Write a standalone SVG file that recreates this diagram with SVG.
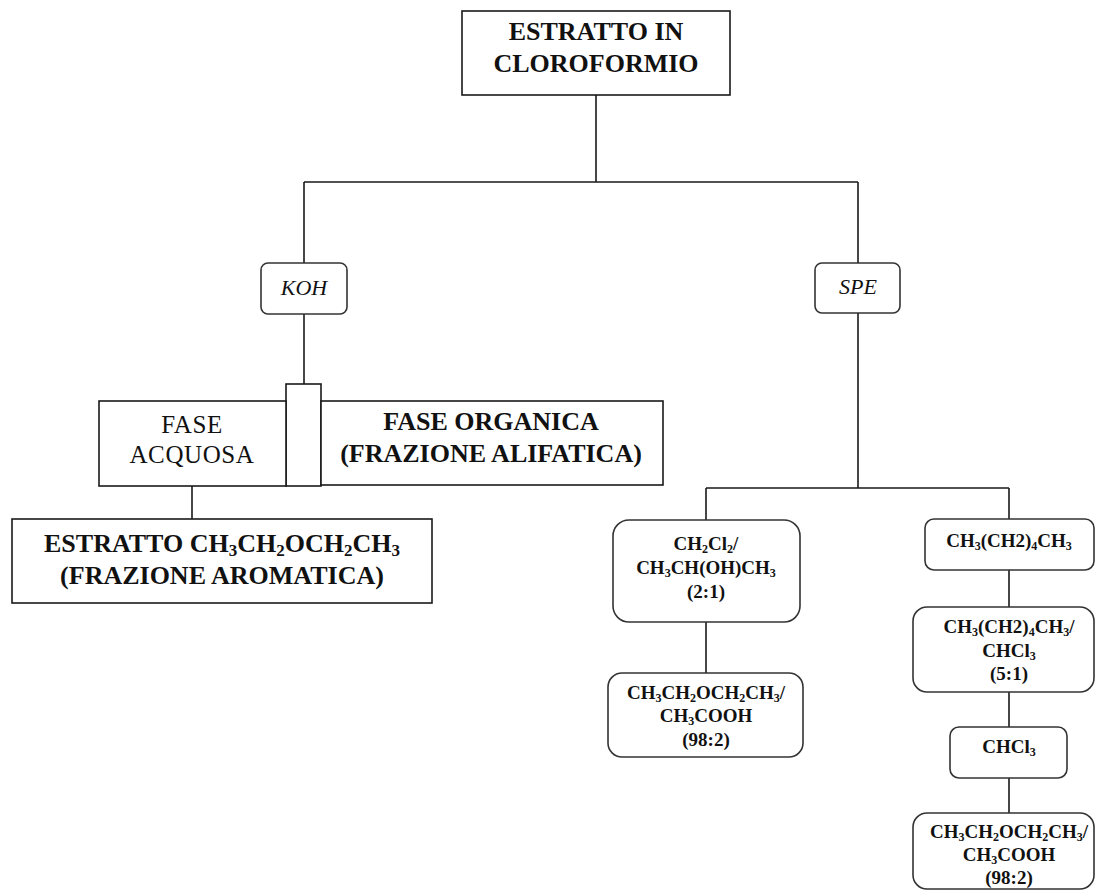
<svg xmlns="http://www.w3.org/2000/svg" width="1096" height="892" viewBox="0 0 1096 892">
<style>
.box{fill:#fff;stroke:#1a1a1a;stroke-width:1.6}
.rbox{fill:#fff;stroke:#333;stroke-width:1.6}
.ln{fill:none;stroke:#1a1a1a;stroke-width:1.6}
.tb{font-family:"Liberation Serif",serif;font-weight:bold;font-size:26px;fill:#111;text-anchor:middle}
.tr{font-family:"Liberation Serif",serif;font-size:25px;fill:#111;text-anchor:middle;letter-spacing:0.6px}
.ti{font-family:"Liberation Serif",serif;font-style:italic;font-size:22px;fill:#111;text-anchor:middle}
.tc{font-family:"Liberation Serif",serif;font-weight:bold;font-size:19px;fill:#111;text-anchor:middle}
.s{font-size:12px}
.sb{font-size:17px}
</style>
<rect width="1096" height="892" fill="#fff"/>
<g id="connectors">
<path class="ln" d="M596 95V182M304 182H858M304 182V263M858 182V263"/>
<path class="ln" d="M304 314V384"/>
<path class="ln" d="M192 486V519"/>
<path class="ln" d="M858 313V488M706 488H1009M706 488V520M1009 488V519"/>
<path class="ln" d="M706 622V673"/>
<path class="ln" d="M1009 570V607M1009 692V727M1009 778V813"/>
</g>
<g id="n-root">
<rect class="box" x="462" y="11" width="268" height="84"/>
<text class="tb" x="596" y="40">ESTRATTO IN</text>
<text class="tb" x="596" y="72">CLOROFORMIO</text>
</g>
<g id="n-koh">
<rect class="rbox" x="261" y="263" width="86" height="51" rx="7"/>
<text class="ti" x="304" y="295">KOH</text>
</g>
<g id="n-spe">
<rect class="rbox" x="815" y="263" width="85" height="50" rx="7"/>
<text class="ti" x="858" y="294">SPE</text>
</g>
<g id="n-split">
<rect class="box" x="286" y="384" width="35" height="102"/>
</g>
<g id="n-acquosa">
<rect class="box" x="99" y="401" width="187" height="85"/>
<text class="tr" x="192" y="433">FASE</text>
<text class="tr" x="192" y="463">ACQUOSA</text>
</g>
<g id="n-organica">
<rect class="box" x="321" y="401" width="342" height="84"/>
<text class="tb" x="491" y="430">FASE ORGANICA</text>
<text class="tb" x="491" y="462">(FRAZIONE ALIFATICA)</text>
</g>
<g id="n-estratto">
<rect class="box" x="12" y="519" width="420" height="84"/>
<text class="tb" x="222" y="552">ESTRATTO CH<tspan class="sb" dy="4">3</tspan><tspan dy="-4">CH</tspan><tspan class="sb" dy="4">2</tspan><tspan dy="-4">OCH</tspan><tspan class="sb" dy="4">2</tspan><tspan dy="-4">CH</tspan><tspan class="sb" dy="4">3</tspan></text>
<text class="tb" x="222" y="584">(FRAZIONE AROMATICA)</text>
</g>
<g id="n-a1">
<rect class="rbox" x="613" y="520" width="187" height="102" rx="16"/>
<text class="tc" x="706" y="550">CH<tspan class="s" dy="3">2</tspan><tspan dy="-3">Cl</tspan><tspan class="s" dy="3">2</tspan><tspan dy="-3">/</tspan></text>
<text class="tc" x="706" y="574">CH<tspan class="s" dy="3">3</tspan><tspan dy="-3">CH(OH)CH</tspan><tspan class="s" dy="3">3</tspan></text>
<text class="tc" x="706" y="598">(2:1)</text>
</g>
<g id="n-a2">
<rect class="rbox" x="608" y="673" width="195" height="84" rx="14"/>
<text class="tc" x="706" y="699">CH<tspan class="s" dy="3">3</tspan><tspan dy="-3">CH</tspan><tspan class="s" dy="3">2</tspan><tspan dy="-3">OCH</tspan><tspan class="s" dy="3">2</tspan><tspan dy="-3">CH</tspan><tspan class="s" dy="3">3</tspan><tspan dy="-3">/</tspan></text>
<text class="tc" x="706" y="722">CH<tspan class="s" dy="3">3</tspan><tspan dy="-3">COOH</tspan></text>
<text class="tc" x="706" y="746">(98:2)</text>
</g>
<g id="n-b1">
<rect class="rbox" x="925" y="519" width="169" height="51" rx="9"/>
<text class="tc" x="1009" y="547">CH<tspan class="s" dy="3">3</tspan><tspan dy="-3">(CH2)</tspan><tspan class="s" dy="3">4</tspan><tspan dy="-3">CH</tspan><tspan class="s" dy="3">3</tspan></text>
</g>
<g id="n-b2">
<rect class="rbox" x="913" y="607" width="181" height="85" rx="14"/>
<text class="tc" x="1009" y="633">CH<tspan class="s" dy="3">3</tspan><tspan dy="-3">(CH2)</tspan><tspan class="s" dy="3">4</tspan><tspan dy="-3">CH</tspan><tspan class="s" dy="3">3</tspan><tspan dy="-3">/</tspan></text>
<text class="tc" x="1009" y="657">CHCl<tspan class="s" dy="3">3</tspan></text>
<text class="tc" x="1009" y="680">(5:1)</text>
</g>
<g id="n-b3">
<rect class="rbox" x="950" y="727" width="117" height="51" rx="9"/>
<text class="tc" x="1009" y="753">CHCl<tspan class="s" dy="3">3</tspan></text>
</g>
<g id="n-b4">
<rect class="rbox" x="913" y="813" width="181" height="76" rx="14"/>
<text class="tc" x="1009" y="838">CH<tspan class="s" dy="3">3</tspan><tspan dy="-3">CH</tspan><tspan class="s" dy="3">2</tspan><tspan dy="-3">OCH</tspan><tspan class="s" dy="3">2</tspan><tspan dy="-3">CH</tspan><tspan class="s" dy="3">3</tspan><tspan dy="-3">/</tspan></text>
<text class="tc" x="1009" y="861">CH<tspan class="s" dy="3">3</tspan><tspan dy="-3">COOH</tspan></text>
<text class="tc" x="1009" y="884">(98:2)</text>
</g>
</svg>
